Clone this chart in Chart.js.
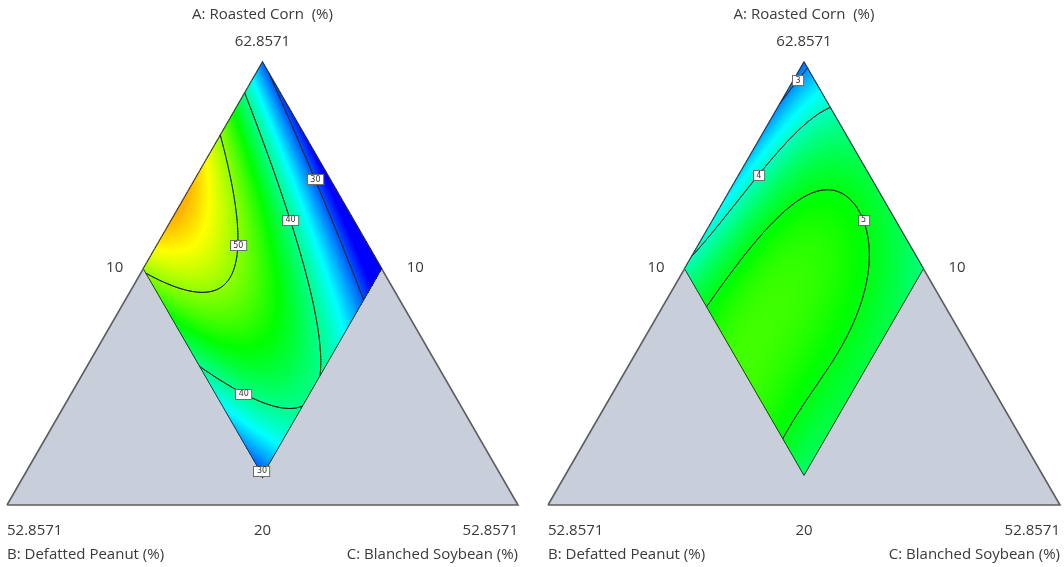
<!DOCTYPE html>
<html>
<head>
<meta charset="utf-8">
<script src="https://cdn.jsdelivr.net/npm/chart.js@4.4.1/dist/chart.umd.min.js"></script>
<style>
  html, body { margin: 0; padding: 0; background: #fff; }
  #wrap { display: flex; width: 1064px; height: 567px; }
  .cell { position: relative; width: 532px; height: 567px; }
  canvas { display: block; }
</style>
</head>
<body>
<div id="wrap">
  <div class="cell"><canvas id="leftPlot" width="532" height="567"></canvas></div>
  <div class="cell"><canvas id="rightPlot" width="532" height="567"></canvas></div>
</div>
<script>
// ---- mixture definition (%) ----
const componentNames = ['A: Roasted Corn  (%)', 'B: Defatted Peanut (%)', 'C: Blanched Soybean (%)'];
const componentLow = [20, 10, 10];
const componentHigh = [62.8571, 52.8571, 52.8571];
const vertexTickLabels = ['62.8571', '52.8571', '52.8571'];
const edgeTickLabels = ['20', '10', '10'];   // A on the base, B on the right edge, C on the left edge

// constrained experimental region: B and C each between 10 and 30 %
const regionB = [10, 30];
const regionC = [10, 30];

// fitted surfaces, written in coded B (u) and coded C (v) over the region
const termPowers = [[0,0],[1,0],[0,1],[2,0],[1,1],[0,2],[3,0],[2,1],[1,2],[0,3],[2,2],[1,3],[2,3],[3,2],[3,3]];
const coefLeft  = [30.5, 69, -9, -33.9, -15.68, 1, -15.1, 1.54, 1.64, 0, -0.7, 0, 0, 0, 0];
const coefRight = [2.8, 0.925, 7.089, 0.374, 9.847, -7.976, 0, -10.574, -15.473, 2.487, 5, 6, 4, 10, -10];

const levelsLeft = [30, 40, 50];
const levelsRight = [3, 4, 5];
const colorRangeLeft = [27, 63];
const colorRangeRight = [2.2, 8.0];

// contour labels: level and anchor composition (B %, C %)
const labelLevelsLeft = [30, 40, 50, 40, 30];
const labelBLeft = [11.4, 15.0, 21.0, 27.2, 29.7];
const labelCLeft = [20.0, 20.1, 16.7, 24.4, 29.7];
const labelLevelsRight = [3, 4, 5];
const labelBRight = [11.4, 19.4, 11.75];
const labelCRight = [10.4, 11.4, 23.2];

// design point marked on the left plot (B %, C %)
const designBLeft = [30];
const designCLeft = [30];

// ---- geometry helpers ----
const H = Math.sqrt(3) / 2;
const pseudoRange = componentHigh[0] - componentLow[0];

function toXY(B, C) {
  const b = (B - componentLow[1]) / pseudoRange;
  const c = (C - componentLow[2]) / pseudoRange;
  const a = 1 - b - c;
  return { x: c + a / 2, y: a * H };
}
function fromXY(x, y) {
  const a = y / H, c = x - a / 2, b = 1 - a - c;
  return { B: componentLow[1] + b * pseudoRange, C: componentLow[2] + c * pseudoRange };
}
function codedToBC(u, v) {
  return { B: regionB[0] + u * (regionB[1] - regionB[0]), C: regionC[0] + v * (regionC[1] - regionC[0]) };
}
function bcToCoded(B, C) {
  return { u: (B - regionB[0]) / (regionB[1] - regionB[0]), v: (C - regionC[0]) / (regionC[1] - regionC[0]) };
}
function evalSurface(coef, u, v) {
  let s = 0;
  for (let i = 0; i < termPowers.length; i++) {
    if (coef[i] !== 0) s += coef[i] * Math.pow(u, termPowers[i][0]) * Math.pow(v, termPowers[i][1]);
  }
  return s;
}

const colorStops = [[0, [0, 0, 255]], [0.25, [0, 255, 255]], [0.5, [0, 255, 0]], [0.75, [255, 255, 0]], [1, [255, 0, 0]]];
function colorFor(val, range) {
  let t = (val - range[0]) / (range[1] - range[0]);
  t = Math.max(0, Math.min(1, t));
  for (let i = 1; i < colorStops.length; i++) {
    if (t <= colorStops[i][0]) {
      const [t0, c0] = colorStops[i - 1], [t1, c1] = colorStops[i];
      const f = (t - t0) / (t1 - t0);
      return [0, 1, 2].map(k => Math.round(c0[k] + (c1[k] - c0[k]) * f));
    }
  }
  return colorStops[colorStops.length - 1][1];
}

// marching squares on the coded grid; returns segments in (u,v)
function contourSegments(coef, level, n) {
  const g = [];
  for (let i = 0; i <= n; i++) {
    g.push([]);
    for (let j = 0; j <= n; j++) g[i].push(evalSurface(coef, i / n, j / n));
  }
  const segs = [];
  for (let i = 0; i < n; i++) {
    for (let j = 0; j < n; j++) {
      const pts = [[i, j], [i + 1, j], [i + 1, j + 1], [i, j + 1]];
      const vals = [g[i][j], g[i + 1][j], g[i + 1][j + 1], g[i][j + 1]];
      const cross = [];
      for (let e = 0; e < 4; e++) {
        const a = e, b = (e + 1) % 4;
        if ((vals[a] >= level) !== (vals[b] >= level)) {
          const t = (level - vals[a]) / (vals[b] - vals[a]);
          cross.push([(pts[a][0] + (pts[b][0] - pts[a][0]) * t) / n, (pts[a][1] + (pts[b][1] - pts[a][1]) * t) / n]);
        }
      }
      if (cross.length === 2) segs.push([cross[0], cross[1]]);
      else if (cross.length === 4) {
        const center = evalSurface(coef, (i + 0.5) / n, (j + 0.5) / n);
        if ((center >= level) === (vals[0] >= level)) { segs.push([cross[0], cross[3]]); segs.push([cross[1], cross[2]]); }
        else { segs.push([cross[0], cross[1]]); segs.push([cross[2], cross[3]]); }
      }
    }
  }
  return segs;
}

// ---- plugin painting the simplex, response surface, contours, labels and axis text ----
const surfacePlugin = {
  id: 'surface',
  beforeDatasetsDraw(chart) { fillSimplex(chart); },
  beforeDatasetDraw(chart, args, o) {
    if (args.index !== 1) return;
    paintSurface(chart, o);
    drawContours(chart, o);
  },
  afterDatasetsDraw(chart, args, o) { drawContourLabels(chart, o); },
  afterDraw(chart) { drawAxisText(chart); }
};

function toPixel(chart, p) {
  return { x: chart.scales.x.getPixelForValue(p.x), y: chart.scales.y.getPixelForValue(p.y) };
}

function fillSimplex(chart) {
  const ctx = chart.ctx;
  const pts = chart.data.datasets[0].data.map(p => toPixel(chart, p));
  ctx.save();
  ctx.beginPath();
  pts.forEach((p, i) => (i ? ctx.lineTo(p.x, p.y) : ctx.moveTo(p.x, p.y)));
  ctx.closePath();
  ctx.fillStyle = '#c9cedb';
  ctx.fill();
  ctx.restore();
}

function paintSurface(chart, o) {
  const xs = chart.scales.x, ys = chart.scales.y, ctx = chart.ctx;
  const corners = [[regionB[0], regionC[0]], [regionB[1], regionC[0]], [regionB[1], regionC[1]], [regionB[0], regionC[1]]]
    .map(([B, C]) => toPixel(chart, toXY(B, C)));
  const x0 = Math.floor(Math.min(...corners.map(p => p.x))) - 1, x1 = Math.ceil(Math.max(...corners.map(p => p.x))) + 1;
  const y0 = Math.floor(Math.min(...corners.map(p => p.y))) - 1, y1 = Math.ceil(Math.max(...corners.map(p => p.y))) + 1;
  const w = x1 - x0 + 1, h = y1 - y0 + 1;
  const off = document.createElement('canvas');
  off.width = w; off.height = h;
  const octx = off.getContext('2d');
  const img = octx.createImageData(w, h);
  const tol = 0.002;
  for (let py = 0; py < h; py++) {
    const Y = ys.getValueForPixel(y0 + py + 0.5);
    for (let px = 0; px < w; px++) {
      const X = xs.getValueForPixel(x0 + px + 0.5);
      const m = fromXY(X, Y);
      const c = bcToCoded(m.B, m.C);
      if (c.u < -tol || c.u > 1 + tol || c.v < -tol || c.v > 1 + tol) continue;
      const val = evalSurface(o.coef, Math.max(0, Math.min(1, c.u)), Math.max(0, Math.min(1, c.v)));
      const col = colorFor(val, o.colorRange);
      const k = (py * w + px) * 4;
      img.data[k] = col[0]; img.data[k + 1] = col[1]; img.data[k + 2] = col[2]; img.data[k + 3] = 255;
    }
  }
  octx.putImageData(img, 0, 0);
  ctx.drawImage(off, x0, y0);
}

function getSegments(chart, o) {
  if (!chart.$contours) {
    chart.$contours = o.levels.map(level => ({
      level,
      segs: contourSegments(o.coef, level, 160).map(s => s.map(([u, v]) => {
        const bc = codedToBC(u, v);
        return toXY(bc.B, bc.C);
      }))
    }));
  }
  return chart.$contours;
}

function drawContours(chart, o) {
  const ctx = chart.ctx;
  ctx.save();
  ctx.strokeStyle = '#262626';
  ctx.lineWidth = 1;
  ctx.lineCap = 'round';
  for (const c of getSegments(chart, o)) {
    ctx.beginPath();
    for (const s of c.segs) {
      const a = toPixel(chart, s[0]), b = toPixel(chart, s[1]);
      ctx.moveTo(a.x, a.y); ctx.lineTo(b.x, b.y);
    }
    ctx.stroke();
  }
  ctx.restore();
}

function drawContourLabels(chart, o) {
  const ctx = chart.ctx;
  const contours = getSegments(chart, o);
  ctx.save();
  ctx.font = '8px "DejaVu Sans", sans-serif';
  ctx.textAlign = 'center';
  ctx.textBaseline = 'middle';
  for (let i = 0; i < o.labelLevels.length; i++) {
    const anchor = toPixel(chart, toXY(o.labelB[i], o.labelC[i]));
    let best = anchor, bestD = 22 * 22;
    const c = contours.find(cc => cc.level === o.labelLevels[i]);
    if (c) {
      for (const s of c.segs) {
        const a = toPixel(chart, s[0]), b = toPixel(chart, s[1]);
        const m = { x: (a.x + b.x) / 2, y: (a.y + b.y) / 2 };
        const d = (m.x - anchor.x) ** 2 + (m.y - anchor.y) ** 2;
        if (d < bestD) { bestD = d; best = m; }
      }
    }
    const text = String(o.labelLevels[i]);
    const tw = ctx.measureText(text).width;
    const bw = Math.max(10, tw + 6), bh = 10;
    const bx = Math.round(best.x - bw / 2) + 0.5, by = Math.round(best.y - bh / 2) + 0.5;
    ctx.fillStyle = '#ffffff';
    ctx.fillRect(bx, by, bw, bh);
    ctx.strokeStyle = '#6e6e6e';
    ctx.lineWidth = 1;
    ctx.strokeRect(bx, by, bw, bh);
    ctx.fillStyle = '#333333';
    ctx.fillText(text, best.x + 0.5, best.y + 0.5);
  }
  ctx.restore();
}

function drawAxisText(chart) {
  const ctx = chart.ctx;
  const T = toPixel(chart, { x: 0.5, y: H });
  const BL = toPixel(chart, { x: 0, y: 0 });
  const BR = toPixel(chart, { x: 1, y: 0 });
  const dl = toPixel(chart, toXY(regionB[1], regionC[0]));
  const dr = toPixel(chart, toXY(regionB[0], regionC[1]));
  ctx.save();
  ctx.fillStyle = '#3a3a3a';
  ctx.font = '15px "Open Sans", "Noto Sans", sans-serif';
  ctx.textBaseline = 'middle';
  ctx.textAlign = 'center';
  ctx.fillText(componentNames[0], T.x, T.y - 47);
  ctx.fillText(vertexTickLabels[0], T.x, T.y - 20);
  ctx.fillText(edgeTickLabels[0], (BL.x + BR.x) / 2, BL.y + 26);
  ctx.textAlign = 'right';
  ctx.fillText(edgeTickLabels[2], dl.x - 20, dl.y - 1);
  ctx.fillText(vertexTickLabels[2], BR.x, BR.y + 26);
  ctx.fillText(componentNames[2], BR.x, BR.y + 50);
  ctx.textAlign = 'left';
  ctx.fillText(edgeTickLabels[1], dr.x + 25, dr.y - 1);
  ctx.fillText(vertexTickLabels[1], BL.x, BL.y + 26);
  ctx.fillText(componentNames[1], BL.x, BL.y + 50);
  ctx.restore();
}

// ---- chart construction ----
function buildPlot(canvasId, coef, levels, colorRange, labelLevels, labelB, labelC, designB, designC, padding) {
  const triangle = [{ x: 0, y: 0 }, { x: 0.5, y: H }, { x: 1, y: 0 }, { x: 0, y: 0 }];
  const region = [[regionB[0], regionC[0]], [regionB[1], regionC[0]], [regionB[1], regionC[1]], [regionB[0], regionC[1]], [regionB[0], regionC[0]]]
    .map(([B, C]) => toXY(B, C));
  const design = designB.map((B, i) => toXY(B, designC[i]));
  return new Chart(document.getElementById(canvasId), {
    type: 'scatter',
    data: {
      datasets: [
        { type: 'line', data: triangle, fill: false, borderColor: '#5e5e5e',
          borderWidth: 1.6, pointRadius: 0, tension: 0, clip: false, order: 3 },
        { type: 'line', data: region, fill: false, borderColor: '#333333', borderWidth: 1, pointRadius: 0,
          tension: 0, clip: false, order: 2 },
        { data: design, showLine: false, pointStyle: 'triangle', rotation: 180, pointRadius: 3,
          backgroundColor: '#1a1a1a', borderColor: '#1a1a1a', borderWidth: 0, clip: false, order: 1 }
      ]
    },
    options: {
      responsive: false,
      animation: false,
      events: [],
      layout: { padding },
      scales: {
        x: { type: 'linear', min: 0, max: 1, display: false },
        y: { type: 'linear', min: 0, max: H, display: false }
      },
      plugins: {
        legend: { display: false },
        tooltip: { enabled: false },
        surface: { coef, levels, colorRange, labelLevels, labelB, labelC }
      }
    },
    plugins: [surfacePlugin]
  });
}

buildPlot('leftPlot', coefLeft, levelsLeft, colorRangeLeft, labelLevelsLeft, labelBLeft, labelCLeft,
  designBLeft, designCLeft, { left: 7, right: 14, top: 62, bottom: 62 });
buildPlot('rightPlot', coefRight, levelsRight, colorRangeRight, labelLevelsRight, labelBRight, labelCRight,
  [], [], { left: 16, right: 4, top: 62, bottom: 62 });
</script>
</body>
</html>
